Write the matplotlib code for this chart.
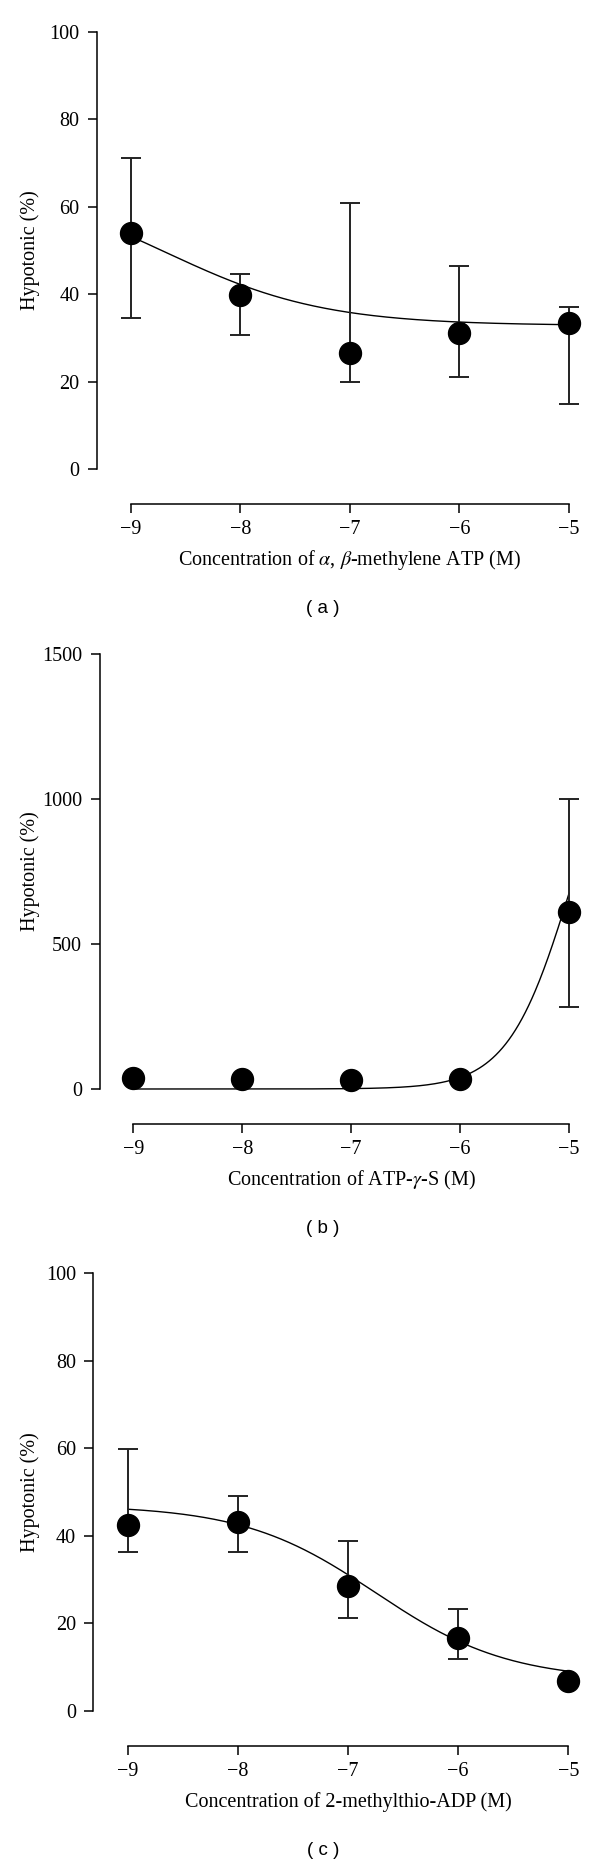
import numpy as np
import matplotlib
matplotlib.use("Agg")
import matplotlib.pyplot as plt

plt.rcParams['font.family'] = ['Liberation Serif', 'DejaVu Serif']
plt.rcParams['mathtext.fontset'] = 'stix'

# ---------------- data ----------------
log_conc = [-9, -8, -7, -6, -5]
x_ticks = [-9, -8, -7, -6, -5]

# (a) alpha,beta-methylene ATP
a_mean = [53.9, 39.7, 26.6, 31.0, 33.3]
a_upper = [71.1, 44.7, 60.9, 46.4, 37.1]
a_lower = [34.5, 30.7, 19.8, 21.1, 14.9]
a_fit = {"bottom": 32.8, "top": 66.4, "logec50": -8.685, "hill": -0.6}
a_yticks = [0, 20, 40, 60, 80, 100]

# (b) ATP-gamma-S
b_mean = [37, 33, 30, 33, 609]
b_upper = [42, 38, 35, 38, 1001]
b_lower = [32, 28, 25, 28, 282]
b_fit = {"bottom": 0.0, "top": 1400.0, "logec50": -4.979, "hill": 1.5}
b_yticks = [0, 500, 1000, 1500]

# (c) 2-methylthio-ADP
c_mean = [42.5, 43.2, 28.5, 16.7, 6.8]
c_upper = [59.9, 49.0, 38.9, 23.2, 7.6]
c_lower = [36.2, 36.4, 21.2, 11.9, 6.0]
c_fit = {"bottom": 7.0, "top": 47.0, "logec50": -6.75, "hill": -0.72}
c_yticks = [0, 20, 40, 60, 80, 100]

xlabels = [r"Concentration of $\alpha$, $\beta$-methylene ATP (M)",
           r"Concentration of ATP-$\gamma$-S (M)",
           "Concentration of 2-methylthio-ADP (M)"]
panel_tags = ["( a )", "( b )", "( c )"]
ylabel = "Hypotonic (%)"

# ---------------- layout (pixels) ----------------
W, H, DPI = 600, 1868, 100
fig = plt.figure(figsize=(W / DPI, H / DPI), dpi=DPI)

layouts = [
    # yaxis_x, xaxis_y, px(-9), px(-5), py(0), py(top)
    dict(yx=96.7, xy=504.0, xa=130.7, xb=569.0, y0=469.0, yt=31.7),
    dict(yx=99.5, xy=1124.0, xa=133.3, xb=569.0, y0=1089.0, yt=654.0),
    dict(yx=93.3, xy=1746.0, xa=128.0, xb=568.3, y0=1711.0, yt=1273.0),
]

def four_pl(x, p):
    return p["bottom"] + (p["top"] - p["bottom"]) / (1 + 10 ** ((p["logec50"] - x) * p["hill"]))

panels = [
    (a_mean, a_upper, a_lower, a_fit, a_yticks),
    (b_mean, b_upper, b_lower, b_fit, b_yticks),
    (c_mean, c_upper, c_lower, c_fit, c_yticks),
]

FS = 14.5
right_px = 596.0
for i, ((mean, up, lo, fit, yt), L) in enumerate(zip(panels, layouts)):
    top_px = L["yt"] - 14
    ax = fig.add_axes([L["yx"] / W, 1 - L["xy"] / H,
                       (right_px - L["yx"]) / W, (L["xy"] - top_px) / H])
    xs = (L["xb"] - L["xa"]) / (x_ticks[-1] - x_ticks[0])
    ys = (L["y0"] - L["yt"]) / (yt[-1] - yt[0])
    ax.set_xlim(x_ticks[0] - (L["xa"] - L["yx"]) / xs, x_ticks[-1] + (right_px - L["xb"]) / xs)
    ax.set_ylim(yt[0] - (L["xy"] - L["y0"]) / ys, yt[-1] + (L["yt"] - top_px) / ys)

    xx = np.linspace(log_conc[0], log_conc[-1], 400)
    ax.plot(xx, four_pl(xx, fit), color='black', lw=1.0, zorder=2)

    m = np.array(mean); u = np.array(up); l = np.array(lo)
    ax.errorbar(log_conc, m, yerr=[m - l, u - m], fmt='none', ecolor='#222222',
                elinewidth=1.4, capsize=7.4, capthick=1.4, zorder=3)
    ax.plot(log_conc, m, 'o', color='black', ms=15.8, zorder=4)

    for s in ['top', 'right']:
        ax.spines[s].set_visible(False)
    ax.spines['left'].set_bounds(yt[0], yt[-1])
    ax.spines['bottom'].set_bounds(x_ticks[0], x_ticks[-1])
    for s in ['left', 'bottom']:
        ax.spines[s].set_linewidth(1.1)
    ax.set_xticks(x_ticks)
    ax.set_yticks(yt)
    ax.tick_params(axis='both', direction='out', length=6.5, width=1.1,
                   labelsize=FS, pad=6)
    ax.tick_params(axis='x', pad=5)
    ax.patch.set_alpha(0)

    cx = (L["xa"] + L["xb"]) / 2
    fig.text(cx / W, 1 - (L["xy"] + 56) / H, xlabels[i], ha='center', va='center', fontsize=FS)
    fig.text(30 / W, 1 - ((L["y0"] + L["yt"]) / 2) / H, ylabel, rotation=90,
             ha='center', va='center', fontsize=FS)
    fig.text(323 / W, 1 - (L["xy"] + 104.5) / H, panel_tags[i], ha='center', va='center',
             fontsize=13.5, family=['Liberation Sans', 'DejaVu Sans'])

fig.savefig("out.png", dpi=DPI, facecolor='white')
